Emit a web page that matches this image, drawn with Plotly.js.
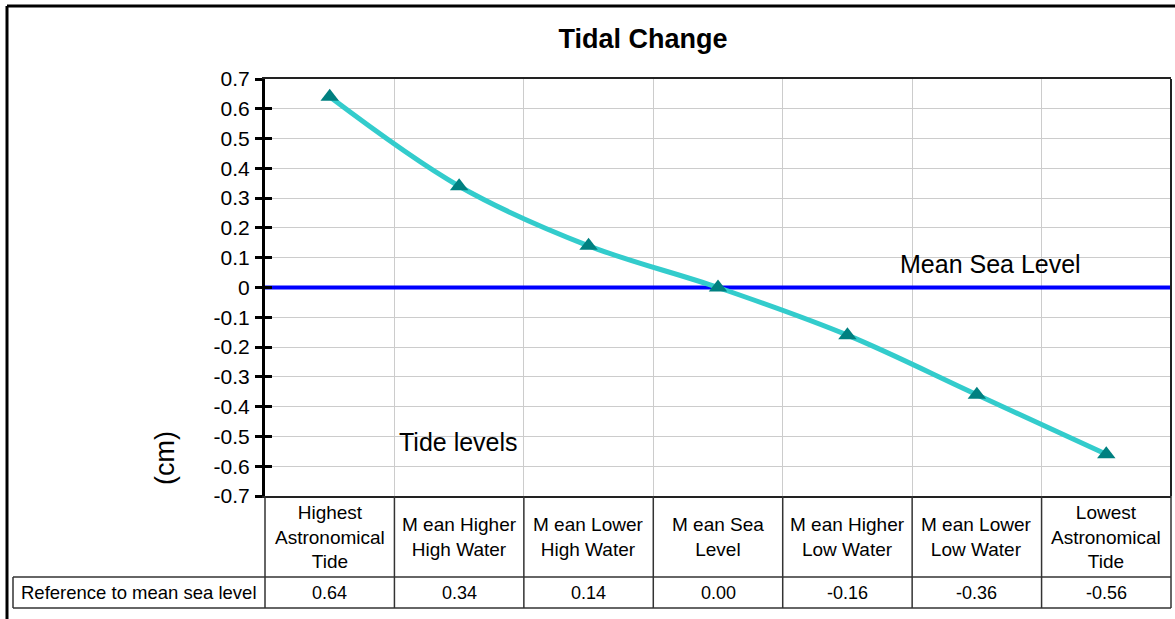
<!DOCTYPE html>
<html>
<head>
<meta charset="utf-8">
<script src="https://cdn.plot.ly/plotly-3.0.1.min.js"></script>
<style>html,body{margin:0;padding:0;background:#fff;}#chart{width:1175px;height:619px;}</style>
</head>
<body>
<div id="chart"></div>
<script>
const categories = ["Highest<br>Astronomical<br>Tide", "M ean Higher<br>High Water", "M ean Lower<br>High Water", "M ean Sea<br>Level", "M ean Higher<br>Low Water", "M ean Lower<br>Low Water", "Lowest<br>Astronomical<br>Tide"];
const values = [0.64, 0.34, 0.14, 0.00, -0.16, -0.36, -0.56];
const meanSeaLevel = 0;
const rowLabel = "Reference to mean sea level";
const yTickVals = [0.7, 0.6, 0.5, 0.4, 0.3, 0.2, 0.1, 0, -0.1, -0.2, -0.3, -0.4, -0.5, -0.6, -0.7];
const yTickText = ["0.7", "0.6", "0.5", "0.4", "0.3", "0.2", "0.1", "0", "-0.1", "-0.2", "-0.3", "-0.4", "-0.5", "-0.6", "-0.7"];

const W = 1175, H = 619, L = 265, R = 1171, T = 79, B = 496;
const px = x => (x - L) / (R - L);
const py = y => (B - y) / (B - T);
const n = categories.length;
const xIdx = categories.map((_, i) => i);
const bounds = [];
for (let k = 0; k <= n; k++) bounds.push(k - 0.5);
const FONT = "Liberation Sans, Arial, sans-serif";

const traces = [
  {x: [bounds[0], bounds[n]], y: [meanSeaLevel, meanSeaLevel], mode: "lines",
   line: {color: "#0000ff", width: 4}, hoverinfo: "skip", showlegend: false, cliponaxis: false},
  {x: xIdx, y: values, mode: "lines+markers",
   line: {color: "#33cccc", width: 5, shape: "spline", smoothing: 1},
   marker: {symbol: "triangle-up", size: 16, color: "#008080"},
   showlegend: false, cliponaxis: false},
  {x: [bounds[0], bounds[n]], y: [meanSeaLevel, meanSeaLevel], yaxis: "y2", mode: "lines",
   line: {color: "rgba(0,0,0,0)", width: 0}, hoverinfo: "skip", showlegend: false}
];

const shapes = [];
const tl = {color: "#333", width: 1.5};
// outer border (top & left visible)
shapes.push({type: "line", xref: "paper", yref: "paper", x0: px(7), x1: px(1180), y0: py(6), y1: py(6), line: {color: "#000", width: 3}});
shapes.push({type: "line", xref: "paper", yref: "paper", x0: px(7), x1: px(7), y0: py(6), y1: py(625), line: {color: "#000", width: 3}});
// plot right border
shapes.push({type: "line", xref: "paper", yref: "paper", x0: 1, x1: 1, y0: 0, y1: 1, line: {color: "#222", width: 2}});
// table
const rowMid = 577, rowBot = 608, tabLeft = 13;
shapes.push({type: "line", xref: "paper", yref: "paper", x0: px(tabLeft), x1: 1, y0: py(rowMid), y1: py(rowMid), line: tl});
shapes.push({type: "line", xref: "paper", yref: "paper", x0: px(tabLeft), x1: 1, y0: py(rowBot), y1: py(rowBot), line: tl});
shapes.push({type: "line", xref: "paper", yref: "paper", x0: px(tabLeft), x1: px(tabLeft), y0: py(rowMid), y1: py(rowBot), line: tl});
for (let k = 0; k <= n; k++) {
  shapes.push({type: "line", xref: "paper", yref: "paper", x0: k / n, x1: k / n, y0: 0, y1: py(rowBot), line: tl});
}

const annotations = [];
categories.forEach((c, i) => {
  annotations.push({xref: "paper", yref: "paper", x: (i + 0.5) / n, y: py((B + rowMid) / 2), text: c,
    showarrow: false, xanchor: "center", yanchor: "middle", font: {family: FONT, size: 19, color: "#000"}});
  annotations.push({xref: "paper", yref: "paper", x: (i + 0.5) / n, y: py((rowMid + rowBot) / 2), text: values[i].toFixed(2),
    showarrow: false, xanchor: "center", yanchor: "middle", font: {family: FONT, size: 18, color: "#000"}});
});
annotations.push({xref: "paper", yref: "paper", x: px(tabLeft + 6), y: py((rowMid + rowBot) / 2), text: rowLabel,
  showarrow: false, xanchor: "left", yanchor: "middle", font: {family: FONT, size: 18.5, color: "#000"}});
annotations.push({xref: "paper", yref: "paper", x: px(990), y: py(264), text: "Mean Sea Level",
  showarrow: false, xanchor: "center", yanchor: "middle", font: {family: FONT, size: 25, color: "#000"}});
annotations.push({xref: "paper", yref: "paper", x: px(458), y: py(442), text: "Tide levels",
  showarrow: false, xanchor: "center", yanchor: "middle", font: {family: FONT, size: 25, color: "#000"}});
annotations.push({xref: "paper", yref: "paper", x: px(165), y: py(458), text: "(cm)", textangle: -90,
  showarrow: false, xanchor: "center", yanchor: "middle", font: {family: FONT, size: 27, color: "#000"}});

const layout = {
  width: W, height: H,
  margin: {l: L, r: W - R, t: T, b: H - B, pad: 0},
  paper_bgcolor: "#fff", plot_bgcolor: "#fff",
  title: {text: "<b>Tidal Change</b>", xref: "container", yref: "container", x: 643 / W, y: 1 - 39 / H,
    xanchor: "center", yanchor: "middle", font: {family: FONT, size: 27, color: "#000"}},
  font: {family: FONT, color: "#000"},
  xaxis: {range: [bounds[0], bounds[n]], tickvals: bounds.slice(1, n), showticklabels: false, ticks: "",
    showgrid: true, gridcolor: "#cccccc", gridwidth: 1, zeroline: false,
    showline: true, mirror: true, linecolor: "#222", linewidth: 2, fixedrange: true},
  yaxis: {range: [-0.7, 0.7], tickvals: yTickVals, ticktext: yTickText, ticks: "outside", ticklen: 7, tickwidth: 3,
    tickcolor: "#000", showgrid: true, gridcolor: "#cccccc", gridwidth: 1, zeroline: false,
    showline: true, linecolor: "#000", linewidth: 3, tickfont: {family: FONT, size: 21, color: "#000"},
    ticklabelstandoff: 1, fixedrange: true},
  yaxis2: {overlaying: "y", side: "left", range: [-0.7, 0.7], tickvals: yTickVals, showticklabels: false,
    ticks: "inside", ticklen: 7, tickwidth: 3, tickcolor: "#000", showgrid: false, zeroline: false, showline: false, fixedrange: true},
  shapes: shapes,
  annotations: annotations,
  showlegend: false
};

Plotly.newPlot("chart", traces, layout, {displayModeBar: false, staticPlot: true});
</script>
</body>
</html>
